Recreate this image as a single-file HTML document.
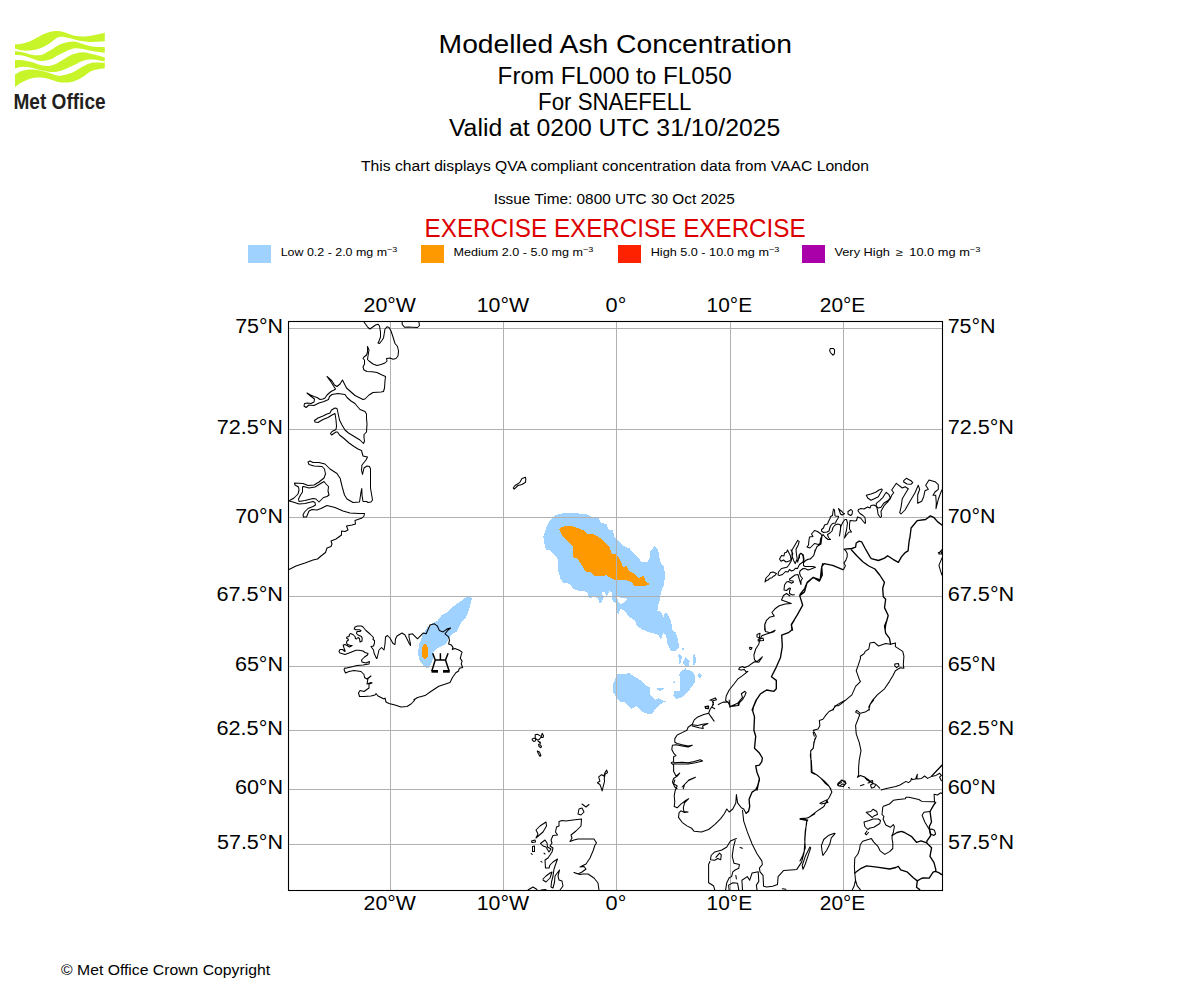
<!DOCTYPE html>
<html><head><meta charset="utf-8"><style>
html,body{margin:0;padding:0;background:#fff;width:1200px;height:1000px;overflow:hidden}
svg{display:block}
text{font-family:"Liberation Sans", sans-serif;}
</style></head><body>
<svg width="1200" height="1000" viewBox="0 0 1200 1000">
<g fill="#c8f52a">
<path d="M15,44.4 C16.23,44.25 19.62,44.17 22.4,43.5 C25.18,42.83 28.60,41.75 31.7,40.4 C34.80,39.05 37.90,36.85 41,35.4 C44.10,33.95 47.47,32.42 50.3,31.7 C53.13,30.98 55.68,31.00 58,31.1 C60.32,31.20 61.62,31.58 64.2,32.3 C66.78,33.02 70.40,34.72 73.5,35.4 C76.60,36.08 79.70,36.40 82.8,36.4 C85.90,36.40 88.43,36.02 92.1,35.4 C95.77,34.78 102.68,33.15 104.8,32.7 L104.8,41.3 C102.68,41.42 95.77,42.00 92.1,42 C88.43,42.00 85.90,41.77 82.8,41.3 C79.70,40.83 76.60,39.92 73.5,39.2 C70.40,38.48 66.78,37.32 64.2,37 C61.62,36.68 60.32,36.32 58,37.3 C55.68,38.28 53.13,41.13 50.3,42.9 C47.47,44.67 44.10,46.67 41,47.9 C37.90,49.13 34.80,49.85 31.7,50.3 C28.60,50.75 25.18,50.90 22.4,50.6 C19.62,50.30 16.23,48.85 15,48.5 Z"/>
<path d="M15,51 C16.23,51.20 19.62,51.58 22.4,52.2 C25.18,52.82 28.60,54.23 31.7,54.7 C34.80,55.17 37.90,55.73 41,55 C44.10,54.27 47.47,51.90 50.3,50.3 C53.13,48.70 55.68,46.63 58,45.4 C60.32,44.17 61.62,43.53 64.2,42.9 C66.78,42.27 70.40,41.40 73.5,41.6 C76.60,41.80 79.70,43.27 82.8,44.1 C85.90,44.93 88.43,46.08 92.1,46.6 C95.77,47.12 102.68,47.10 104.8,47.2 L104.8,52.8 C102.68,52.50 95.77,51.62 92.1,51 C88.43,50.38 85.90,49.52 82.8,49.1 C79.70,48.68 76.60,47.98 73.5,48.5 C70.40,49.02 66.78,51.07 64.2,52.2 C61.62,53.33 60.32,54.07 58,55.3 C55.68,56.53 53.13,58.67 50.3,59.6 C47.47,60.53 44.10,61.10 41,60.9 C37.90,60.70 34.80,59.28 31.7,58.4 C28.60,57.52 25.18,56.17 22.4,55.6 C19.62,55.03 16.23,55.10 15,55 Z"/>
<path d="M15,60 C16.23,60.05 19.62,59.95 22.4,60.3 C25.18,60.65 28.60,61.28 31.7,62.1 C34.80,62.92 37.90,64.58 41,65.2 C44.10,65.82 47.47,66.22 50.3,65.8 C53.13,65.38 55.68,63.83 58,62.7 C60.32,61.57 61.62,60.43 64.2,59 C66.78,57.57 70.40,55.23 73.5,54.1 C76.60,52.97 79.70,52.20 82.8,52.2 C85.90,52.20 88.43,53.22 92.1,54.1 C95.77,54.98 102.68,56.93 104.8,57.5 L104.8,61.5 C102.68,61.18 95.77,59.70 92.1,59.6 C88.43,59.50 85.90,59.97 82.8,60.9 C79.70,61.83 76.60,63.75 73.5,65.2 C70.40,66.65 66.78,68.57 64.2,69.6 C61.62,70.63 60.32,71.00 58,71.4 C55.68,71.80 53.13,72.20 50.3,72 C47.47,71.80 44.10,70.92 41,70.2 C37.90,69.48 34.80,68.27 31.7,67.7 C28.60,67.13 25.18,66.65 22.4,66.8 C19.62,66.95 16.23,68.30 15,68.6 Z"/>
<path d="M15,74.5 C16.23,73.88 19.62,71.62 22.4,70.8 C25.18,69.98 28.60,69.60 31.7,69.6 C34.80,69.60 37.90,70.18 41,70.8 C44.10,71.42 47.47,72.47 50.3,73.3 C53.13,74.13 55.68,75.50 58,75.8 C60.32,76.10 61.62,75.73 64.2,75.1 C66.78,74.47 70.40,73.43 73.5,72 C76.60,70.57 79.70,68.05 82.8,66.5 C85.90,64.95 88.43,63.33 92.1,62.7 C95.77,62.07 102.68,62.70 104.8,62.7 L104.8,68.3 C102.68,68.72 95.77,69.35 92.1,70.8 C88.43,72.25 85.90,75.23 82.8,77 C79.70,78.77 76.60,80.47 73.5,81.4 C70.40,82.33 66.78,82.50 64.2,82.6 C61.62,82.70 60.32,82.52 58,82 C55.68,81.48 53.13,80.23 50.3,79.5 C47.47,78.77 44.10,77.82 41,77.6 C37.90,77.38 34.80,77.47 31.7,78.2 C28.60,78.93 25.18,80.55 22.4,82 C19.62,83.45 16.23,86.08 15,86.9 Z"/>
</g>
<text x="13.47" y="108.80" font-size="21.53" font-weight="bold" fill="#231f20" textLength="92.13" lengthAdjust="spacingAndGlyphs" >Met Office</text>
<text x="438.61" y="53.00" font-size="25.75" fill="#000" textLength="353.41" lengthAdjust="spacingAndGlyphs" >Modelled Ash Concentration</text>
<text x="497.64" y="83.70" font-size="23.56" fill="#000" textLength="233.96" lengthAdjust="spacingAndGlyphs" >From FL000 to FL050</text>
<text x="538.09" y="109.70" font-size="23.27" fill="#000" textLength="153.40" lengthAdjust="spacingAndGlyphs" >For SNAEFELL</text>
<text x="448.93" y="136.30" font-size="23.27" fill="#000" textLength="331.43" lengthAdjust="spacingAndGlyphs" >Valid at 0200 UTC 31/10/2025</text>
<text x="361.04" y="171.20" font-size="15.13" fill="#000" textLength="507.94" lengthAdjust="spacingAndGlyphs" >This chart displays QVA compliant concentration data from VAAC London</text>
<text x="493.67" y="204.20" font-size="14.55" fill="#000" textLength="241.05" lengthAdjust="spacingAndGlyphs" >Issue Time: 0800 UTC 30 Oct 2025</text>
<text x="424.62" y="237.10" font-size="26.18" fill="#dd0000" textLength="381.07" lengthAdjust="spacingAndGlyphs" >EXERCISE EXERCISE EXERCISE</text>
<rect x="248" y="245" width="23" height="18" fill="#a0d2ff"/>
<text x="280.7" y="255.9" font-size="10.4" textLength="116.6" lengthAdjust="spacingAndGlyphs">Low 0.2 - 2.0 mg m<tspan font-size="7.5" dy="-4">−3</tspan></text>
<rect x="421" y="245" width="23" height="18" fill="#ff9900"/>
<text x="453.6" y="255.9" font-size="10.4" textLength="139.7" lengthAdjust="spacingAndGlyphs">Medium 2.0 - 5.0 mg m<tspan font-size="7.5" dy="-4">−3</tspan></text>
<rect x="618" y="245" width="23" height="18" fill="#ff2200"/>
<text x="650.7" y="255.9" font-size="10.4" textLength="128.7" lengthAdjust="spacingAndGlyphs">High 5.0 - 10.0 mg m<tspan font-size="7.5" dy="-4">−3</tspan></text>
<rect x="802" y="245" width="23" height="18" fill="#aa00aa"/>
<text x="834.4" y="255.9" font-size="10.4" textLength="146.0" lengthAdjust="spacingAndGlyphs">Very High  ≥  10.0 mg m<tspan font-size="7.5" dy="-4">−3</tspan></text>
<text x="61.13" y="975.00" font-size="14.55" fill="#000" textLength="208.89" lengthAdjust="spacingAndGlyphs" >© Met Office Crown Copyright</text>
<defs><clipPath id="mc"><rect x="288.5" y="321.5" width="654.0" height="569.0"/></clipPath></defs>
<g clip-path="url(#mc)">
<g shape-rendering="crispEdges"><path d="M562.5,513.3 576.8,513.3 586.7,514.4 591.1,516.6 598.8,518.2 601.0,522.6 606.5,524.3 608.7,529.8 613.1,530.3 614.2,536.9 617.0,539.1 624.1,546.3 629.6,548.5 634.0,553.4 638.4,557.8 641.7,562.2 647.2,562.2 649.4,558.9 650.5,551.2 654.4,546.3 658.2,550.1 659.3,556.7 660.4,562.2 663.7,566.6 665.0,573.6 664.3,583.4 660.8,593.2 660.1,598.8 658.0,605.8 657.3,611.4 660.1,611.4 662.2,614.2 663.6,617.0 665.0,612.8 667.1,613.5 671.3,621.2 672.0,629.6 675.5,632.4 678.3,640.8 679.0,647.8 676.2,650.6 671.3,651.3 667.1,643.6 666.4,636.6 663.6,632.4 660.8,639.4 658.7,635.2 652.4,633.1 647.5,631.7 642.6,629.6 637.0,626.1 634.9,620.5 628.6,616.3 625.1,611.4 621.6,609.3 620.0,609.3 618.7,614.7 617.3,613.3 616.7,603.3 615.3,602.7 612.7,601.3 612.0,596.7 611.7,592.0 609.3,591.3 606.7,596.0 603.7,596.7 603.3,599.3 600.0,604.0 598.0,598.0 594.7,597.3 589.3,597.7 588.7,596.7 588.0,593.3 584.7,591.3 580.0,591.3 573.3,588.7 570.0,584.3 566.7,583.0 563.3,583.3 560.0,578.0 559.8,575.4 557.6,568.8 558.1,559.5 555.9,556.7 549.9,550.1 546.0,549.6 544.4,543.5 543.3,536.9 546.0,528.1 549.3,521.5 554.8,515.5 562.5,513.3Z" fill="#a0d2ff"/><path d="M617.5,674.2 629.2,673.3 633.3,675.8 640.0,680.0 644.2,684.2 650.0,687.5 650.4,695.0 655.0,700.0 658.3,698.3 661.7,700.0 666.7,701.7 663.3,702.1 655.8,708.3 651.7,714.2 645.0,713.3 639.2,709.2 636.7,705.8 631.7,708.8 625.0,702.1 620.0,701.7 615.8,696.7 612.9,691.7 612.5,685.8 615.4,678.3Z" fill="#a0d2ff"/><path d="M685.0,669.2 691.7,670.8 694.6,675.0 694.6,682.5 691.7,686.7 687.5,692.5 683.3,696.7 676.7,698.8 673.3,695.8 674.2,691.2 680.0,690.8 680.0,679.2 679.2,674.2 681.7,670.8Z" fill="#a0d2ff"/><path d="M685.0,669.2 686.2,666.7 683.3,664.2 683.3,661.7 685.4,657.1 689.6,661.2 689.2,665.0 687.1,666.7Z" fill="#a0d2ff"/><path d="M678.3,655.0 680.0,654.2 681.7,656.7 681.2,663.3 679.2,663.8Z" fill="#a0d2ff"/><path d="M693.3,654.6 695.0,654.2 696.2,660.8 695.0,665.4 693.3,665.4Z" fill="#a0d2ff"/><path d="M698.3,674.2 700.0,672.9 701.7,675.8 700.0,678.3 698.3,676.7Z" fill="#a0d2ff"/><path d="M657.1,688.3 663.8,688.3 663.3,690.0 660.0,690.8 657.5,690.0Z" fill="#a0d2ff"/><path d="M682.1,647.9 683.8,647.9 683.8,649.6 682.1,649.6Z" fill="#a0d2ff"/><path d="M673.3,682.5 674.6,680.8 675.0,683.8Z" fill="#a0d2ff"/><path d="M470.0,595.6 471.9,598.8 470.0,606.2 467.5,613.8 465.0,618.8 461.2,622.5 458.8,627.5 456.9,631.9 452.5,633.8 448.8,638.8 446.2,643.8 441.2,646.2 436.2,648.8 433.1,652.5 432.5,660.0 430.6,665.0 428.1,668.1 424.4,666.9 420.0,661.2 418.1,655.0 418.8,645.0 423.1,633.8 427.5,627.5 432.5,623.1 437.5,620.6 441.2,615.6 448.8,611.2 453.8,606.2 458.8,602.5 465.0,598.1Z" fill="#a0d2ff"/><path d="M617.3,597.3 626.0,598.0 626.7,600.0 624.0,602.7 620.7,604.0 618.0,602.0 617.3,597.3Z" fill="#ffffff"/><path d="M602.0,592.0 604.7,592.0 606.0,596.0 602.7,596.0Z" fill="#ffffff"/><path d="M559.2,529.8 561.4,527.0 569.1,525.4 576.8,527.6 583.4,530.3 587.8,534.2 593.9,534.2 601.0,538.6 605.4,543.0 609.8,547.4 612.0,554.5 616.4,554.0 620.8,561.1 623.0,567.7 626.3,566.1 629.6,571.6 634.0,573.2 638.4,578.2 643.4,576.0 646.1,582.0 650.0,584.2 643.9,586.4 634.0,585.9 631.8,582.0 626.3,580.4 616.4,580.4 612.0,578.7 606.5,575.4 595.5,576.5 590.0,571.6 585.6,571.6 582.3,566.1 577.9,558.9 573.5,557.3 573.0,546.3 568.0,541.3 562.5,535.8Z" fill="#ff9900"/><path d="M425.0,643.8 426.9,645.0 427.9,648.5 427.9,656.6 425.6,659.0 424.4,659.0 422.0,656.6 422.0,648.5 423.1,645.0Z" fill="#ff9900"/></g>
<path d="M390.5,321.5V890.5 M503.5,321.5V890.5 M616.5,321.5V890.5 M730.5,321.5V890.5 M843.5,321.5V890.5 M288.5,328.5H942.5 M288.5,429.5H942.5 M288.5,517.5H942.5 M288.5,596.5H942.5 M288.5,666.5H942.5 M288.5,730.5H942.5 M288.5,789.5H942.5 M288.5,844.5H942.5" stroke="#b0b0b0" stroke-width="1" fill="none" shape-rendering="crispEdges"/>
<path d="M364.0,322.0 368.0,327.5 370.0,329.0 372.0,327.5 375.5,325.0 378.0,324.2 379.5,326.0 380.5,332.0 380.5,337.0 379.0,341.0 378.0,343.0 379.5,343.5 381.5,341.0 383.5,338.0 384.5,332.0 385.0,329.0 387.0,326.8 389.0,327.5 391.0,331.0 393.0,337.0 395.0,343.5 397.5,346.5 398.5,351.0 398.0,356.0 396.0,358.5 393.0,359.2 390.0,358.0 386.5,358.5 387.0,361.0 385.0,363.0 381.0,364.5 377.0,365.5 373.0,364.0 369.0,361.0 367.5,359.5 368.0,356.0 369.0,350.0 367.5,346.5 367.5,352.0 366.5,355.0 364.0,357.0 363.0,358.5 364.5,360.0 364.5,364.0 363.0,367.0 364.0,370.0 367.0,371.5 372.0,371.8 377.0,372.5 381.0,374.5 385.5,376.5 385.0,381.0 384.5,388.0 383.5,391.5 381.0,392.0 373.0,392.5 369.0,395.0 365.0,399.0 363.0,399.5 358.0,397.0 355.0,395.5 350.5,391.5 346.5,388.0 344.0,383.0 342.5,380.0 340.0,384.0 337.0,386.5 334.5,385.0 332.0,381.0 327.0,376.5 331.0,382.0 335.5,389.0 334.0,390.0 331.0,391.5 327.0,395.0 325.0,398.0 323.0,399.0 320.0,399.5 317.0,397.5 314.0,396.5 310.5,395.0 307.0,393.0 310.5,396.0 314.5,399.0 314.0,402.0 311.0,403.5 307.5,403.0 304.5,403.5 304.0,406.0 306.0,407.5 309.0,405.0 314.0,405.5 319.0,403.0 324.0,401.5 328.5,399.5 329.5,396.5 332.0,394.5 338.0,393.5 345.0,394.5 347.0,397.5 351.0,401.0 355.0,403.5 357.0,406.0 360.0,409.5 365.0,411.5 366.5,414.0 366.5,418.0 367.0,424.0 366.5,432.0 364.0,434.5 364.0,438.0 364.5,441.0 363.5,443.5 360.0,440.0 355.0,437.0 348.5,433.0 345.0,430.0 342.0,425.0 339.5,420.0 338.0,413.0 337.0,408.5 335.0,408.0 331.5,410.0 330.0,413.0 327.0,414.0 323.0,416.0 318.0,418.0 314.5,420.5 315.0,422.0 318.0,422.5 323.0,419.5 328.0,417.5 332.0,415.0 335.0,413.5 336.0,420.0 336.5,426.0 336.0,429.5 332.0,431.5 330.5,433.5 331.5,435.0 336.0,432.0 337.5,432.0 339.5,435.0 344.0,438.5 349.0,443.0 354.0,446.5 358.0,449.0 361.5,450.5 363.0,456.0 367.5,457.0 366.0,460.0 362.0,465.0 361.5,470.0 362.5,474.5 364.0,468.0 367.0,466.0 369.5,466.5 370.5,469.0 370.5,480.0 370.5,488.0 372.5,500.0 372.5,500.0 371.0,502.0 368.0,502.5 366.5,501.5 363.0,501.5 362.0,495.0 361.8,488.5 361.0,492.0 359.5,502.0 353.0,502.5 347.0,499.0 344.5,495.0 342.5,488.0 340.5,480.0 340.5,479.0 337.0,473.5 330.0,469.0 325.0,464.0 319.0,462.5 313.0,462.5 310.0,461.0 308.0,462.0 309.0,464.5 314.0,466.0 322.0,466.5 324.5,469.0 325.5,474.0 324.0,478.0 319.0,482.0 314.0,485.0 308.0,485.5 303.0,483.5 294.5,483.0 295.0,485.0 298.5,487.0 299.0,490.0 298.0,494.0 294.0,498.0 290.5,500.0 290.5,500.0 289.0,501.0 M289.0,501.0 293.0,502.0 299.0,504.0 305.0,503.5 313.0,501.5 315.0,502.5 315.5,505.0 313.0,506.5 308.0,508.5 304.5,512.0 303.0,515.0 303.5,517.0 306.5,517.0 309.0,511.0 312.0,509.5 317.0,510.0 321.0,508.5 327.0,505.5 335.0,507.5 343.0,511.0 350.0,513.0 359.0,513.5 364.5,513.5 364.0,516.0 362.0,518.0 355.0,520.5 355.5,524.0 352.0,525.0 346.5,526.0 348.0,530.0 345.0,531.5 341.5,531.0 341.5,535.0 336.0,539.0 331.0,541.0 332.0,544.0 331.0,546.5 327.0,548.0 325.5,552.5 321.0,556.0 317.5,559.0 313.0,560.0 305.0,563.0 296.0,566.0 289.0,569.5 M299.0,501.5 298.5,499.0 300.5,495.0 302.5,492.0 302.5,487.0 303.5,486.5 309.0,488.0 315.0,487.0 324.0,481.5 326.0,484.0 328.5,486.5 328.0,491.0 329.0,495.0 327.0,496.5 323.5,497.5 319.0,502.0 316.0,499.0 313.0,498.5 305.0,500.5 299.0,501.5 M402.2,321.5 402.2,324.5 404.5,327.2 408.0,327.0 417.5,327.5 419.5,325.5 418.8,321.5 M525.5,477.2 522.0,478.5 520.2,481.8 518.0,483.8 515.0,485.5 513.2,488.0 514.2,489.2 518.0,485.5 522.0,484.5 525.5,482.2 525.8,479.5 525.5,477.2 M830.4,348.5 833.5,348.5 834.6,349.8 834.4,353.8 832.9,355.2 830.4,352.5 829.6,350.4 830.4,348.5 M409.0,634.0 409.0,637.0 410.5,644.0 410.5,645.5 409.5,644.0 405.0,635.0 402.0,633.0 397.0,636.0 395.5,639.0 395.0,644.5 393.0,643.5 390.0,638.0 387.5,635.5 385.5,637.0 385.0,644.0 384.0,650.0 381.5,647.5 379.0,650.0 377.0,658.5 376.5,658.5 374.0,653.0 373.5,650.0 371.0,646.5 373.5,646.0 374.5,643.0 374.5,640.5 373.0,639.5 373.5,637.5 370.0,634.0 366.0,630.5 363.0,627.0 361.5,626.0 357.5,626.0 355.0,627.0 354.2,629.0 356.0,629.8 359.5,629.8 361.0,630.8 360.0,631.5 357.0,631.5 356.5,633.5 358.0,635.0 361.5,636.5 362.2,638.5 362.0,641.0 360.0,642.0 359.5,638.5 358.0,637.5 356.5,639.0 355.5,638.5 355.0,636.5 353.0,634.5 350.5,633.5 349.5,634.5 349.0,636.5 347.0,637.0 346.5,638.0 348.0,639.0 348.5,640.0 347.0,641.0 346.5,643.0 347.5,644.5 350.5,645.5 352.2,645.5 349.5,647.0 347.0,645.5 345.0,644.5 343.2,645.0 344.0,648.0 345.0,650.5 345.0,651.5 342.5,649.5 340.0,649.5 339.0,651.5 340.0,653.0 345.0,654.5 349.0,653.0 356.0,650.2 359.0,650.2 363.0,651.0 365.0,652.5 368.0,653.5 367.5,655.0 364.5,657.0 361.5,660.0 362.0,662.0 366.0,663.0 369.5,661.5 369.0,664.0 363.0,665.0 357.0,665.5 351.0,667.0 344.5,668.5 345.0,668.0 344.0,669.5 345.5,673.0 349.0,671.5 354.0,670.5 361.0,671.5 364.0,674.5 364.5,677.5 367.0,679.0 371.0,676.0 368.0,678.5 367.0,684.0 371.0,682.5 372.0,683.0 369.0,684.0 369.0,688.0 364.0,691.5 360.0,690.5 358.5,693.0 359.5,696.5 364.0,696.5 371.0,696.0 375.0,695.0 376.0,693.5 378.0,696.0 384.0,699.0 385.0,698.0 386.0,702.0 389.0,703.5 395.0,705.0 401.0,707.0 407.0,706.5 411.0,704.0 414.0,701.0 415.0,699.0 413.8,700.0 417.5,697.5 425.0,695.6 431.2,691.2 438.8,686.2 450.0,682.5 452.5,677.5 455.8,672.8 458.5,671.0 459.4,668.3 462.6,667.4 461.2,663.8 462.1,661.1 460.3,658.4 461.2,654.8 462.1,652.1 459.4,650.3 454.9,648.5 452.2,649.4 453.1,647.6 451.3,644.9 448.6,644.0 449.5,640.4 448.6,636.8 445.0,633.8 448.1,630.0 450.6,628.1 447.5,628.8 443.1,631.9 439.4,630.6 437.5,626.2 434.4,623.8 430.0,625.0 426.2,633.8 423.1,633.1 417.5,638.8 412.5,633.8 409.4,634.4 M938.9,553.3 941.9,549.7 M938.3,552.7 941.3,551.5 941.9,553.9 938.9,553.9 M941.9,558.1 938.9,565.4 940.7,571.4 941.9,575.0 M766.6,620.0 764.8,624.8 765.4,631.5 770.2,632.7 775.1,630.3 773.3,632.1 766.6,633.9 761.8,635.7 760.0,639.3 758.8,644.2 755.7,649.0 753.9,655.0 754.5,659.9 757.0,661.7 761.8,657.4 762.4,656.8 758.8,662.3 754.5,661.7 748.5,665.9 744.3,667.7 742.5,666.5 739.4,667.7 738.8,669.5 741.3,670.1 744.3,669.5 746.1,671.9 747.9,671.3 742.5,675.6 737.6,679.2 734.0,684.0 729.2,690.0 726.2,696.1 725.6,700.3 728.0,702.1 729.2,704.5 730.4,707.0 M757.0,634.5 760.0,633.3 759.4,638.1 757.0,636.9 757.0,634.5 M758.2,639.3 763.0,638.1 763.6,640.5 758.2,641.1 758.2,639.3 M749.7,647.2 752.1,647.8 750.9,649.6 749.7,649.0 749.7,647.2 M709.9,700.3 715.3,697.9 716.5,699.7 712.3,700.9 713.5,704.5 711.7,707.0 714.7,708.8 M718.3,704.5 723.1,702.1 727.4,702.1 M705.6,707.0 708.6,706.4 708.0,708.8 705.6,708.2 705.6,707.0 M730.4,706.4 737.6,703.3 742.5,697.3 741.3,693.7 744.9,691.3 746.1,692.5 744.9,695.5 742.5,699.7 738.8,703.3 737.6,705.7 730.4,706.4 M890.6,644.2 885.7,643.6 878.5,646.0 874.3,642.3 870.0,642.9 868.8,649.0 865.2,651.4 864.0,653.8 860.4,656.2 860.4,658.6 858.0,665.9 856.2,670.7 859.2,679.2 860.4,681.6 855.6,686.4 851.9,694.9 844.7,700.9 841.7,703.3 838.6,705.7 835.0,705.7 833.2,710.0 M890.6,644.2 895.4,642.9 895.4,646.6 902.7,651.4 903.9,656.2 903.3,664.7 903.9,668.3 900.2,667.7 895.4,670.7 893.0,675.6 889.4,681.6 884.5,688.8 877.3,694.9 872.5,700.3 870.0,704.5 868.8,707.0 869.4,710.0 M894.8,664.1 898.4,663.5 899.0,665.9 896.6,667.7 894.8,665.9 894.8,664.1 M711.1,700.0 713.5,702.4 712.3,706.0 709.9,709.7 708.6,713.3 703.8,714.5 697.8,716.9 694.2,719.9 692.3,724.2 688.1,727.2 686.9,730.2 682.1,732.6 677.2,735.0 674.8,738.6 674.8,742.3 677.2,743.5 682.1,744.7 688.1,745.9 692.3,745.3 688.1,747.1 682.1,745.9 676.0,744.7 672.4,745.3 671.8,749.5 673.6,753.1 676.0,755.6 673.6,756.8 673.6,761.6 671.2,762.8 673.6,765.2 673.6,771.3 676.0,776.1 679.7,773.1 677.2,776.1 673.6,778.5 672.4,782.1 674.8,787.0 677.2,788.8 M673.6,762.8 682.1,762.2 688.1,762.8 694.2,761.6 700.2,759.8 702.6,761.0 695.4,762.8 688.1,764.0 682.1,764.0 673.6,764.0 M708.6,713.3 711.1,716.9 714.1,721.1 M692.3,724.8 697.8,725.4 702.6,724.2 708.0,723.6 702.6,726.0 703.2,728.4 699.0,727.8 692.3,726.0 M682.1,787.0 688.1,780.9 695.4,777.3 689.3,779.7 684.5,784.5 683.3,788.8 M729.2,700.0 729.8,707.2 M730.4,706.0 738.8,705.4 740.0,700.0 M705.0,706.6 708.6,706.0 708.6,708.5 705.6,708.5 705.0,706.6 M814.3,730.2 813.1,732.6 814.3,736.2 M814.9,738.6 813.1,748.3 810.7,750.7 811.3,772.5 814.9,774.3 M845.9,700.0 841.1,702.4 836.2,705.4 832.6,709.7 829.0,711.5 825.4,715.7 822.9,719.3 819.3,720.5 819.9,725.4 818.1,729.0 813.3,730.2 815.1,733.8 816.3,736.2 813.9,742.3 813.3,748.3 810.9,750.7 810.3,755.6 811.5,762.8 811.5,772.5 816.9,774.9 819.9,777.3 824.2,780.9 827.8,784.5 830.8,788.8 M873.7,700.0 870.0,704.8 868.8,709.7 865.2,712.1 860.4,713.3 856.8,710.3 855.6,712.1 859.8,714.5 858.0,719.3 855.6,725.4 856.2,733.8 859.2,742.3 861.0,750.7 859.2,760.4 858.6,767.6 858.6,774.9 857.4,777.3 860.4,775.5 865.2,777.3 870.0,780.9 872.5,783.3 876.1,784.5 879.7,788.2 M860.4,785.7 864.0,784.5 M674.8,780.0 673.6,783.6 677.2,786.0 675.4,789.7 674.2,795.7 674.8,801.7 674.2,806.6 677.2,807.8 680.9,804.2 685.7,800.5 688.7,798.7 684.5,802.9 683.3,807.8 683.9,811.4 688.1,812.0 684.5,812.6 680.9,810.8 679.1,812.6 678.5,817.4 682.1,822.3 686.9,825.9 691.7,828.3 694.2,831.3 701.4,831.9 708.6,829.5 714.7,824.7 720.7,818.6 724.3,813.8 726.8,809.0 729.2,812.0 732.8,809.0 735.8,802.9 736.4,794.5 737.6,802.9 741.3,807.8 743.7,809.0 746.1,813.2 M742.5,810.2 743.7,821.1 747.3,831.9 752.1,844.0 757.0,853.7 761.8,860.9 762.4,864.5 759.4,868.2 760.0,871.8 763.0,875.4 763.6,886.3 766.6,886.9 772.7,886.3 777.5,884.5 778.1,876.6 783.5,870.6 790.8,870.0 796.8,869.4 801.6,862.1 804.1,852.5 804.7,844.0 805.3,834.3 806.5,822.3 807.7,819.9 800.4,818.6 807.7,818.0 814.9,813.8 M736.4,838.6 730.4,841.0 726.8,847.0 721.9,850.0 714.7,851.9 711.1,855.5 710.5,859.7 714.7,860.3 717.7,858.5 720.7,859.7 721.3,854.9 719.5,853.1 715.9,857.3 M709.9,861.5 708.6,864.5 708.6,882.7 713.5,885.7 714.7,889.9 M735.2,840.4 733.4,847.6 732.2,856.1 734.0,863.3 739.4,864.5 738.8,868.2 735.2,870.0 732.8,871.8 731.6,876.6 729.2,877.8 726.8,882.7 725.6,889.9 M729.2,889.9 728.6,885.1 732.8,882.7 737.6,883.3 738.8,889.9 M742.5,889.9 741.9,880.2 747.3,876.6 749.7,880.2 752.1,873.0 758.2,871.8 758.8,881.4 756.4,885.1 757.0,889.9 M740.0,847.6 742.5,848.2 M735.8,875.4 736.4,879.0 M782.3,888.7 785.9,889.3 M811.3,760.0 812.0,772.0 817.3,775.3 821.3,778.6 825.3,783.3 829.3,786.6 831.9,791.9 829.3,797.2 826.6,801.2 823.9,806.5 816.0,811.9 809.3,817.2 805.3,818.5 800.0,818.5 M819.9,803.2 826.6,799.9 827.9,802.6 821.3,803.9 819.9,803.2 M800.0,819.2 806.6,820.5 806.6,823.8 805.3,830.5 804.7,839.8 805.3,847.8 802.7,855.7 800.0,861.1 M837.9,783.3 841.9,779.9 845.9,783.3 843.2,786.6 838.6,785.9 837.9,783.3 M606.7,770.1 607.6,772.6 605.0,774.3 604.2,778.6 604.6,781.1 603.3,786.2 602.1,790.9 601.2,787.9 599.9,784.5 597.4,782.8 599.9,781.1 598.7,776.9 601.6,774.7 603.8,776.0 605.0,772.6 606.7,770.1 M599.0,890.0 598.0,883.0 594.0,878.0 588.0,874.0 583.0,874.0 580.0,874.5 574.0,872.5 578.0,874.0 582.0,872.0 586.0,869.0 584.0,866.5 580.0,867.0 582.0,866.0 586.0,864.0 590.0,858.0 593.0,851.0 595.0,845.0 596.5,843.0 594.0,839.0 586.0,839.0 578.0,839.0 574.0,840.0 570.0,841.5 572.0,838.0 571.0,835.0 576.0,831.0 581.0,826.0 581.5,819.0 573.0,820.0 566.0,821.0 562.0,820.5 559.0,821.5 559.0,826.0 556.5,827.0 555.5,832.0 557.5,835.0 553.0,835.5 551.0,840.0 552.0,843.0 550.0,846.0 553.0,848.0 552.0,852.0 550.0,855.0 548.0,858.0 545.0,860.0 545.5,868.0 549.0,868.0 550.0,865.0 553.0,862.0 557.5,859.0 554.0,869.0 553.0,876.0 551.5,882.0 551.0,887.0 553.0,888.0 554.5,882.0 555.0,876.0 559.5,870.0 M559.5,870.0 558.0,876.0 559.0,880.0 562.0,881.0 563.0,886.0 560.0,890.0 M536.0,838.0 538.0,834.0 536.0,830.0 540.0,826.0 546.0,822.0 546.5,826.0 543.0,832.0 536.0,838.0 M531.5,841.0 535.0,840.0 535.5,842.0 532.0,842.5 531.5,841.0 M532.5,846.5 534.5,846.0 534.5,851.5 532.5,851.5 532.5,846.5 M540.5,843.5 545.0,840.0 547.0,843.0 547.5,847.0 551.0,849.0 549.0,852.0 546.0,847.0 543.0,846.0 540.5,843.5 M543.0,879.0 546.0,876.0 550.0,873.0 552.0,872.0 550.0,878.0 546.0,882.0 543.0,880.0 M582.0,804.0 586.0,807.0 589.0,804.5 M579.0,809.0 582.0,808.0 584.0,812.0 581.0,815.0 578.0,814.0 579.0,809.0 M528.0,890.0 533.0,887.0 537.0,889.5 M541.0,890.0 546.0,889.5 M797.6,562.0 798.4,559.6 799.2,554.8 800.8,553.2 803.2,554.8 804.0,558.8 803.6,562.4 806.4,560.0 810.4,558.8 813.6,555.6 815.2,550.8 817.0,546.5 821.0,544.0 821.5,540.0 822.0,536.0 823.0,534.5 825.5,537.5 828.0,539.5 830.5,539.5 828.5,537.5 827.5,534.5 830.0,533.0 832.0,531.0 833.0,527.5 835.0,525.0 838.0,524.0 840.5,525.0 840.5,530.0 839.5,536.0 840.0,532.0 841.0,526.0 843.0,522.0 845.0,519.5 846.5,519.5 847.5,523.0 846.5,530.0 844.5,538.0 846.5,535.0 849.0,532.0 851.5,532.0 849.5,529.0 849.5,525.0 850.0,520.5 855.0,521.0 856.5,520.5 857.5,517.0 860.5,518.0 865.0,523.5 865.5,522.5 865.0,517.5 863.0,515.5 860.0,513.5 858.0,511.0 858.5,509.5 861.0,508.5 864.0,509.0 867.5,507.0 870.0,508.0 871.0,505.5 874.0,505.0 876.5,506.5 877.5,510.0 878.0,514.0 879.5,516.5 880.5,517.5 881.5,516.5 881.0,511.3 884.3,505.3 888.3,501.3 890.3,498.7 891.7,495.3 893.7,492.7 891.7,490.0 896.3,483.3 902.3,488.0 905.0,486.7 908.3,488.7 906.3,492.0 902.3,498.7 901.0,507.3 899.7,512.7 901.0,514.0 905.0,510.0 910.3,500.7 915.0,492.7 918.3,485.3 919.7,489.3 917.7,494.7 917.7,503.3 921.7,501.3 923.7,496.7 925.0,490.7 928.3,489.3 925.7,485.3 929.0,480.0 935.0,481.7 938.3,484.7 938.3,489.3 935.0,492.0 933.0,495.3 935.7,495.3 936.3,503.3 936.0,508.7 938.3,499.3 941.0,492.0 942.3,489.3 M833.5,509.0 834.5,510.0 835.0,516.0 838.5,516.3 838.0,518.5 836.5,520.5 835.5,523.0 832.5,523.5 830.5,526.0 829.5,529.0 829.0,531.0 827.0,532.0 823.5,532.5 821.5,531.0 821.5,529.5 823.5,528.0 824.5,525.0 827.5,524.0 828.5,521.5 830.0,518.5 830.5,516.5 832.5,515.5 833.0,511.5 833.5,509.0 M814.5,530.5 817.5,531.5 821.0,534.0 822.0,536.0 820.5,539.0 820.0,543.5 818.5,544.5 814.5,543.5 812.0,546.0 810.0,548.0 807.0,547.0 808.5,545.0 809.0,540.0 809.5,537.0 813.0,536.5 811.5,534.0 814.5,530.5 M838.5,508.5 840.0,510.0 842.0,511.5 843.0,513.0 844.5,513.8 842.0,515.0 840.5,514.0 839.5,511.0 838.5,508.5 M848.0,511.5 851.0,509.5 852.5,511.0 852.0,514.5 850.5,515.5 848.0,514.0 848.0,511.5 M866.3,495.3 871.0,494.0 875.7,492.3 879.0,490.0 881.7,489.0 882.3,490.0 880.3,493.3 878.3,496.7 874.3,498.7 871.0,500.3 867.7,498.0 866.3,495.3 M876.3,503.3 879.7,500.7 883.0,497.3 885.0,494.0 886.3,492.3 889.0,494.7 890.3,498.0 887.7,500.7 883.7,503.3 881.0,507.3 878.3,508.0 876.3,506.0 876.3,503.3 M903.7,480.7 906.3,478.3 911.0,480.7 912.7,482.7 911.0,484.3 907.0,484.0 903.7,482.0 903.7,480.7 M797.6,540.4 799.2,541.6 798.4,544.4 796.0,549.2 796.4,554.0 797.2,558.8 795.2,563.6 793.6,560.4 792.0,555.6 792.0,550.0 794.4,546.0 797.6,540.4 M787.5,550.0 786.5,552.2 784.5,553.0 784.0,556.0 781.5,555.5 779.5,559.0 781.0,561.2 783.5,560.0 786.0,562.0 789.5,561.0 791.0,559.5 790.5,556.0 788.5,552.0 787.5,550.0 M791.0,550.0 792.0,552.0 792.8,553.5 792.0,557.5 791.2,561.0 790.0,563.0 788.5,565.5 787.0,567.2 781.5,568.5 778.5,572.0 778.0,575.0 779.5,575.5 782.5,574.5 785.5,571.5 788.0,572.0 789.5,569.5 791.5,571.0 794.0,570.0 795.5,568.2 797.5,568.5 799.5,564.5 803.0,562.0 803.5,560.0 803.0,556.0 801.5,553.5 799.5,554.5 799.5,557.5 798.0,560.0 797.0,561.0 M815.0,550.0 814.0,555.0 810.5,559.0 808.0,559.2 805.0,561.0 803.5,563.0 803.5,565.5 805.0,566.5 813.0,566.5 815.5,567.2 813.5,568.0 811.0,569.0 808.0,570.0 805.5,568.8 803.0,568.5 800.0,571.0 799.5,573.0 800.5,576.0 802.5,578.5 801.0,580.5 801.0,584.5 799.5,580.0 798.0,574.5 795.0,575.0 791.0,578.0 789.5,579.0 790.0,580.5 793.0,581.0 793.5,582.0 791.5,583.2 788.5,581.5 786.5,582.0 784.5,585.0 784.0,590.0 786.5,590.5 789.5,588.0 790.5,588.5 789.5,591.0 789.5,593.5 792.5,595.0 794.5,594.8 M765.0,582.0 766.0,578.0 769.0,575.0 770.5,572.5 773.0,572.0 776.5,573.5 775.0,575.5 773.0,576.5 772.0,577.8 770.0,578.2 768.0,580.0 766.5,580.5 765.0,582.0 M790.0,596.0 786.5,593.5 783.5,595.5 781.5,600.0 791.3,603.4 785.2,604.0 779.2,605.8 775.0,608.8 771.9,612.5 774.3,616.1 769.5,617.3 766.5,620.3 764.7,624.5 764.7,630.0 M844.0,549.2 845.8,550.8 847.3,553.8 847.1,557.1 845.8,560.4 844.0,562.9 845.4,565.8 844.2,568.3 843.3,569.6 M882.8,807.0 883.5,806.3 889.5,804.0 893.3,800.3 898.5,799.5 905.3,798.8 906.0,797.3 909.0,797.3 918.8,799.5 921.8,801.4 933.8,801.8 935.6,802.5 M882.8,807.0 882.0,814.5 883.9,816.4 883.1,819.0 885.8,825.0 890.3,827.3 893.3,824.6 894.4,826.5 893.3,832.5 892.1,835.5 M934.5,801.8 934.1,794.3 937.5,795.0 940.5,792.8 942.0,793.5 M930.0,811.5 924.0,812.3 922.1,815.3 924.8,822.0 929.3,829.5 930.8,834.0 933.8,835.5 935.6,834.0 934.5,830.3 931.5,829.1 929.3,830.0 M866.3,812.3 870.8,811.5 873.0,809.3 876.8,811.5 877.5,814.5 873.8,816.0 872.3,817.5 866.3,812.3 M864.0,822.0 869.3,820.5 873.0,819.0 878.3,819.0 880.5,820.5 879.8,823.5 873.8,827.3 870.0,828.0 867.8,829.5 864.8,826.5 864.0,822.0 M867.0,831.0 865.1,833.6 866.3,834.8 868.5,832.5 M892.1,835.5 892.0,838.5 892.8,842.9 892.8,848.5 889.6,851.6 884.8,854.4 880.1,850.8 877.7,846.1 873.8,842.1 871.4,838.6 862.7,841.3 860.3,844.5 859.5,849.3 857.9,854.0 854.8,858.0 854.4,866.7 854.8,873.0 855.5,880.1 854.0,886.5 852.4,889.6 M855.5,880.1 857.1,885.7 860.3,889.6 M834.4,833.3 828.3,835.6 823.7,839.5 821.4,845.6 822.1,851.7 822.9,855.5 826.7,850.2 829.8,844.1 831.3,837.9 835.1,833.6 M809.9,847.1 805.3,856.3 802.2,865.5 803.0,869.3 805.3,864.0 808.4,854.8 810.7,847.9 809.9,847.1 M531.2,853.6 532.2,854.4 M544.0,853.2 545.0,854.0 M541.0,861.4 542.0,862.2 M837.5,784.5 839.5,782.0 841.5,780.5 845.0,781.0 846.0,783.5 844.5,784.5 842.0,784.0 840.0,786.0 838.0,785.5 837.5,784.5 M838.0,784.3 840.5,783.0 841.5,782.3 M848.6,787.5 849.6,788.1 M864.0,776.5 866.5,779.5 869.5,781.5 872.5,780.5 873.0,783.5 870.5,785.0 871.5,788.0 874.0,787.5 876.0,784.5 M865.5,778.5 868.5,779.5 870.0,782.5 868.0,783.0 M881.1,789.9 886.4,788.6 895.7,786.6 900.0,785.0 906.0,781.4 908.4,782.6 910.8,780.8 911.4,778.4 912.6,779.6 915.6,779.0 917.4,774.2 916.8,779.0 921.6,778.4 924.6,776.0 927.6,778.4 931.2,776.6 936.0,775.4 939.6,773.3 941.4,775.4 939.6,777.2 941.4,780.8 M535.2,734.8 537.3,734.2 539.4,735.4 541.5,736.6 542.1,733.3 543.6,735.7 543.0,737.5 540.9,737.2 539.4,739.3 537.9,740.2 536.4,739.3 535.2,737.8 535.2,734.8 M532.2,739.0 534.0,738.1 535.8,739.0 535.2,741.1 533.7,741.4 532.2,739.9 532.2,739.0 M538.2,741.4 540.0,742.0 540.6,743.2 539.4,742.9 M538.5,744.4 540.6,745.0 541.5,746.8 540.6,747.7 539.1,746.5 538.5,744.4 M537.3,751.0 539.4,751.9 540.9,755.5 540.0,756.4 538.5,754.0 537.3,751.0" fill="none" stroke="#000" stroke-width="1.05" stroke-linejoin="round" stroke-linecap="round"/><path d="M909.3,540.0 909.9,537.6 911.1,528.0 917.1,520.7 925.6,519.5 930.4,515.9 934.1,517.7 937.7,521.9 941.9,525.0 M822.7,563.6 821.4,569.0 820.2,579.9 813.0,577.4 807.0,582.9 804.5,591.9 799.7,595.6 802.7,605.2 797.3,614.9 791.3,624.5 792.5,630.0 M800.0,594.3 804.8,588.3 807.2,582.3 813.3,577.4 819.3,581.1 822.3,575.0 821.7,566.6 824.2,563.6 832.6,565.4 842.9,569.6 M844.7,549.1 851.9,548.5 855.6,547.2 856.2,543.0 859.2,541.2 861.6,541.8 865.2,548.5 870.0,556.9 871.3,558.7 878.5,560.5 884.5,558.1 887.6,555.7 893.0,559.3 898.4,562.3 901.4,556.9 905.1,552.7 908.1,550.9 908.7,544.8 909.3,540.0 M851.3,549.7 856.8,555.7 862.8,561.7 868.8,566.0 874.9,569.0 879.7,575.0 884.5,582.3 882.7,588.3 883.3,596.8 885.7,599.2 884.5,607.6 888.2,615.5 885.7,624.5 885.1,630.0 M794.4,620.0 791.4,624.8 792.0,629.7 788.4,632.7 781.7,635.1 782.3,646.6 780.5,657.4 776.3,667.1 771.4,676.8 776.3,680.4 776.3,688.8 773.9,691.3 766.6,690.0 760.6,693.7 755.7,700.9 753.3,707.0 752.1,710.0 M887.0,620.0 884.5,626.0 885.7,633.3 889.4,638.1 890.6,644.2 M756.4,700.0 753.3,707.2 752.7,710.9 754.5,716.9 753.9,730.2 755.7,736.2 754.5,748.3 759.4,753.1 762.4,758.0 761.8,761.6 759.4,765.2 755.7,765.8 757.0,772.5 759.4,778.5 758.2,784.5 757.0,790.0 M931.6,776.1 941.9,765.2 M759.4,780.0 757.6,786.0 755.7,789.7 752.1,792.1 749.1,799.3 749.7,806.6 748.5,811.4 746.1,813.2 M935.6,802.5 933.8,804.8 930.0,811.5 931.5,822.0 929.3,826.5 930.0,832.5 930.8,835.5 927.0,840.8 926.6,843.0 M892.1,835.5 897.0,832.5 901.5,831.4 904.5,832.5 911.3,836.3 916.5,842.3 921.0,840.8 926.8,842.9 M854.8,873.0 861.1,868.3 866.6,865.9 876.9,867.1 889.6,869.0 895.9,867.5 898.3,866.3 900.7,869.8 907.0,871.8 913.3,877.8 917.3,880.9 921.3,878.5 923.6,877.8 929.2,878.2 933.1,872.2 935.5,871.4 938.7,872.6 941.8,874.6 M917.3,880.9 916.5,887.3 919.7,889.6 M926.8,842.9 931.6,847.7 930.0,856.4 934.0,862.7 935.9,869.8 935.5,871.4" fill="none" stroke="#000" stroke-width="1.35" stroke-linejoin="round" stroke-linecap="round"/>
</g>
<rect x="288.5" y="321.5" width="654.0" height="569.0" fill="none" stroke="#000" stroke-width="1.1"/>
<text x="363.57" y="311.90" font-size="20.22" fill="#000" textLength="52.30" lengthAdjust="spacingAndGlyphs" >20°W</text>
<text x="363.57" y="909.90" font-size="20.22" fill="#000" textLength="52.30" lengthAdjust="spacingAndGlyphs" >20°W</text>
<text x="476.75" y="311.90" font-size="20.22" fill="#000" textLength="52.32" lengthAdjust="spacingAndGlyphs" >10°W</text>
<text x="476.75" y="909.90" font-size="20.22" fill="#000" textLength="52.32" lengthAdjust="spacingAndGlyphs" >10°W</text>
<text x="605.61" y="311.90" font-size="20.22" fill="#000" textLength="20.74" lengthAdjust="spacingAndGlyphs" >0°</text>
<text x="605.61" y="909.90" font-size="20.22" fill="#000" textLength="20.74" lengthAdjust="spacingAndGlyphs" >0°</text>
<text x="706.61" y="311.90" font-size="20.22" fill="#000" textLength="45.45" lengthAdjust="spacingAndGlyphs" >10°E</text>
<text x="706.61" y="909.90" font-size="20.22" fill="#000" textLength="45.45" lengthAdjust="spacingAndGlyphs" >10°E</text>
<text x="819.83" y="311.90" font-size="20.22" fill="#000" textLength="45.43" lengthAdjust="spacingAndGlyphs" >20°E</text>
<text x="819.83" y="909.90" font-size="20.22" fill="#000" textLength="45.43" lengthAdjust="spacingAndGlyphs" >20°E</text>
<text x="235.18" y="332.90" font-size="19.93" fill="#000" textLength="47.89" lengthAdjust="spacingAndGlyphs" >75°N</text>
<text x="947.68" y="332.90" font-size="19.93" fill="#000" textLength="47.89" lengthAdjust="spacingAndGlyphs" >75°N</text>
<text x="216.67" y="434.30" font-size="19.93" fill="#000" textLength="66.34" lengthAdjust="spacingAndGlyphs" >72.5°N</text>
<text x="947.67" y="434.30" font-size="19.93" fill="#000" textLength="66.34" lengthAdjust="spacingAndGlyphs" >72.5°N</text>
<text x="235.18" y="522.52" font-size="19.93" fill="#000" textLength="47.89" lengthAdjust="spacingAndGlyphs" >70°N</text>
<text x="947.68" y="522.52" font-size="19.93" fill="#000" textLength="47.89" lengthAdjust="spacingAndGlyphs" >70°N</text>
<text x="216.41" y="600.74" font-size="19.93" fill="#000" textLength="66.60" lengthAdjust="spacingAndGlyphs" >67.5°N</text>
<text x="947.66" y="600.74" font-size="19.93" fill="#000" textLength="66.60" lengthAdjust="spacingAndGlyphs" >67.5°N</text>
<text x="234.92" y="671.12" font-size="19.93" fill="#000" textLength="48.15" lengthAdjust="spacingAndGlyphs" >65°N</text>
<text x="947.67" y="671.12" font-size="19.93" fill="#000" textLength="48.15" lengthAdjust="spacingAndGlyphs" >65°N</text>
<text x="216.41" y="735.19" font-size="19.93" fill="#000" textLength="66.60" lengthAdjust="spacingAndGlyphs" >62.5°N</text>
<text x="947.66" y="735.19" font-size="19.93" fill="#000" textLength="66.60" lengthAdjust="spacingAndGlyphs" >62.5°N</text>
<text x="234.92" y="794.10" font-size="19.93" fill="#000" textLength="48.15" lengthAdjust="spacingAndGlyphs" >60°N</text>
<text x="947.67" y="794.10" font-size="19.93" fill="#000" textLength="48.15" lengthAdjust="spacingAndGlyphs" >60°N</text>
<text x="216.94" y="848.71" font-size="19.93" fill="#000" textLength="66.06" lengthAdjust="spacingAndGlyphs" >57.5°N</text>
<text x="947.94" y="848.71" font-size="19.93" fill="#000" textLength="66.06" lengthAdjust="spacingAndGlyphs" >57.5°N</text>
<g stroke="#000" stroke-width="1.5" fill="none" stroke-linecap="butt"><path d="M432.7,653.2 L435.2,659.9 M440.4,653.2 L440.4,659.9 M448.1,653.2 L445.5,659.9 M434.4,659.9 L446.3,659.9 M435.2,660 L431.8,671.3 M445.5,660 L449.2,671.3"/></g><rect x="431.5" y="670" width="6.5" height="2.7" fill="#000"/><rect x="443" y="670" width="6.7" height="2.7" fill="#000"/>
</svg></body></html>
